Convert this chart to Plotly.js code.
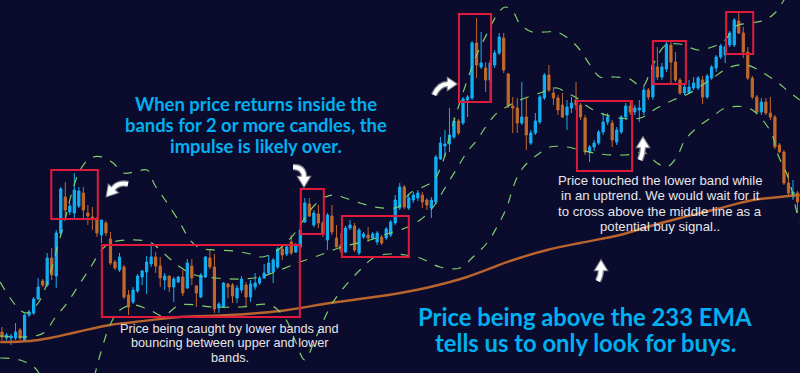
<!DOCTYPE html>
<html>
<head>
<meta charset="utf-8">
<script src="https://cdn.plot.ly/plotly-3.0.1.min.js"></script>
<style>html,body{margin:0;padding:0;background:#0b0b2d;}#chart{width:800px;height:373px;}</style>
</head>
<body>
<div id="chart"></div>
<script>
// ---- candle data (bar index 0..176) ----
const openP  = [41,35,35,35,43,33,58,60,74,92,88,115,97,140,176,161,160,167,180,160,156,155,138,150,134,111,103,106,78,71,
  82,96,101,109,116,107,93,97,86,91,96,85,107,87,76,96,115,106,65,66,89,88,75,83,88,76,86,90,95,100,
  101,106,124,119,131,121,126,151,169,148,159,150,133,157,135,128,121,145,147,120,136,138,135,131,136,135,138,150,165,186,
  165,173,175,178,173,165,171,214,227,229,236,252,250,273,275,330,306,305,293,308,320,335,299,267,265,250,256,230,240,251,
  275,298,280,275,268,258,265,273,268,255,221,226,230,241,251,250,231,241,256,267,261,263,261,283,276,306,296,304,328,311,
  293,280,280,285,285,293,276,295,305,316,318,328,328,352,340,321,295,276,261,271,260,256,228,221,190,176,180];
const highP  = [46,40,39,50,45,59,63,76,95,94,120,125,143,186,191,170,200,186,186,168,166,156,153,152,141,113,120,108,83,86,
  99,103,117,127,121,116,100,97,96,97,103,114,114,88,100,117,124,119,71,91,90,90,88,97,91,93,100,97,109,118,
  115,126,128,128,138,130,151,175,175,163,168,152,160,168,148,140,147,153,150,145,141,146,141,142,138,146,153,178,190,188,
  178,181,183,181,175,176,218,236,243,265,256,254,276,278,332,355,341,311,313,323,340,340,300,276,275,291,275,243,260,278,
  300,308,286,278,280,273,276,291,270,258,228,233,243,260,260,253,246,258,270,273,268,273,288,285,310,326,310,331,331,321,
  295,288,293,296,297,297,299,308,318,329,328,342,355,361,346,326,297,278,275,275,276,258,230,223,201,193,182];
const lowP   = [33,33,28,33,33,32,56,58,73,86,86,93,85,138,156,158,153,165,155,148,143,136,130,137,108,103,101,74,58,69,
  80,88,79,106,100,86,83,81,71,90,77,84,88,66,75,95,104,60,60,65,75,70,70,80,66,71,83,88,94,98,
  90,104,113,117,118,120,111,150,156,146,145,136,123,138,126,120,120,143,121,118,134,131,133,128,128,133,136,148,163,164,
  163,170,172,165,163,155,169,213,216,221,234,238,248,256,273,295,304,281,271,305,318,300,265,240,240,248,223,228,238,249,
  273,281,268,258,255,243,260,263,253,218,211,222,228,238,248,226,228,239,253,258,258,251,258,273,273,293,293,301,290,291,
  278,278,279,283,283,269,274,293,301,314,310,326,326,339,315,293,274,259,258,258,253,224,220,188,178,173,160];
const closeP = [36,38,37,41,35,58,61,74,86,88,115,98,140,184,163,167,183,182,163,157,154,140,153,140,110,105,116,76,66,83,
  97,102,111,116,107,95,97,86,94,96,80,110,95,80,98,116,106,64,69,90,86,77,85,94,76,89,90,95,100,110,
  113,124,118,126,120,128,143,170,157,160,150,140,158,141,126,123,145,148,123,143,139,135,139,140,130,144,151,173,186,166,
  175,178,180,171,168,173,216,230,229,238,252,240,274,276,330,308,310,293,310,320,336,303,267,265,250,256,238,240,252,276,
  298,283,275,263,256,266,270,268,256,221,226,230,241,251,256,233,243,256,267,261,265,265,283,276,308,296,306,329,311,293,
  280,286,286,290,295,276,297,306,316,327,326,340,353,340,321,295,276,261,271,260,256,226,221,190,180,181,171];

// ---- Bollinger bands (sampled) ----
const upperX = [-0.4,1.8,4.0,5.5,8.0,10.2,12.4,14.2,15.5,17.3,19.5,22.3,24.6,26.8,29.4,32.1,33.8,36.1,39.4,41.6,43.8,47.1,51.5,54.9,57.5,60.4,62.6,64.8,67.0,69.2,
  71.5,73.7,75.9,79.2,82.5,87.6,90.3,93.6,95.4,97.3,99.1,100.9,103.1,105.3,107.5,109.5,111.3,113.1,114.6,117.3,120.1,122.8,125.7,127.9,130.1,132.3,135.6,138.9,141.6,143.4,
  145.1,146.9,150.0,154.0,157.1,160.0,161.5,162.8,165.9,168.8,171.0,172.6,174.3,176.5];
const upperV = [91,75,63,60,70,93,128,158,181,203,215,216,210,200,201,203,188,173,150,133,125,123,122,119,116,121,129,140,155,168,
  176,178,175,170,166,166,180,187,192,208,238,265,295,321,341,358,366,361,349,341,341,341,333,323,308,296,296,294,286,301,
  318,328,329,323,326,333,343,348,350,353,360,370,383,398];
const middleX = [-0.4,4.0,7.3,9.5,11.7,14.4,17.3,19.5,21.7,23.9,28.3,32.7,35.0,37.2,39.4,42.7,47.1,52.7,57.1,60.4,63.7,65.9,70.4,75.2,81.4,85.8,89.2,92.5,95.4,98.0,
  100.7,102.9,105.1,107.3,109.5,112.4,114.6,119.0,122.8,125.0,127.2,129.4,132.3,136.7,141.2,144.9,148.5,152.2,156.6,161.1,164.8,167.7,171.5,173.9,176.5];
const middleV = [37,36,37,41,55,70,90,105,121,130,133,131,123,114,106,98,95,94,96,101,107,111,118,126,133,140,145,153,166,185,
  205,221,233,248,260,268,273,280,285,280,275,267,260,255,255,265,273,280,293,306,308,302,291,282,273];
const lowerX = [-0.4,4.0,7.3,9.5,12.8,17.3,19.9,21.7,23.9,26.1,29.0,32.7,35.6,39.4,46.7,52.7,59.3,62.6,64.8,67.0,69.2,72.6,75.2,79.2,82.5,85.8,89.2,92.5,96.9,101.3,
  104.2,107.3,109.5,111.7,113.1,114.6,116.2,119.0,121.2,125.0,127.9,132.3,137.8,142.3,144.9,147.1,149.3,151.1,154.0,157.1,160.0,164.4,166.6,168.8,170.4,171.7,173.9,175.9,176.5];
const lowerV = [15,13,5,-12,-47,-47,-12,18,48,63,68,63,57,68,66,66,68,55,33,13,33,66,83,103,116,119,118,115,106,105,
  116,130,146,166,186,201,210,220,226,226,223,219,218,220,210,206,216,233,246,256,265,266,261,250,238,218,196,160,151];

// ---- 233 EMA (sampled) ----
const emaX = [-0.4,6.2,10.6,16.6,23.9,29.4,39.4,50.4,61.5,72.6,79.2,88.1,94.7,102.9,113.1,120.6,127.9,136.7,142.7,150.0,157.3,166.2,172.1,176.5];
const emaV = [31,32,35,41,48,51,56,58,62,70,74,80,86,96,113,123,130,138,146,155,163,173,176,178];

// ---- highlighted zones [x0,x1,low,high] in bar index / price ----
const zoneX0 = [10.9,22.1,66.1,75.2,101.1,127.2,144.0,160.2];
const zoneX1 = [21.2,65.9,71.2,90.0,108.2,139.4,151.3,166.2];
const zoneLo = [154,56,139,116,271,202,289,319];
const zoneHi = [203,128,184,157,359,272,332,361];

// ---- text ----
const noteImpulse = ["When price returns inside the","bands for 2 or more candles, the","impulse is likely over."];
const noteLower = ["Price touched the lower band while","in an uptrend. We would wait for it","to cross above the middle line as a","potential buy signal.."];
const noteCaught = ["Price being caught by lower bands and","bouncing between upper and lower","bands."];
const noteEma = ["Price being above the 233 EMA","tells us to only look for buys."];

const idx = openP.map((_, i) => i);
const W = 800, H = 373;
const BG = '#0b0b2d', CYAN = '#00b0f0', BAND = '#7fcf6a';

const traces = [
  {type:'scatter', mode:'lines', x: emaX, y: emaV, line:{color:'#b8642c', width:2.4, shape:'spline'}, hoverinfo:'skip'},
  {type:'scatter', mode:'lines', x: upperX, y: upperV, line:{color:BAND, width:1.2, dash:'dash', shape:'spline'}, hoverinfo:'skip'},
  {type:'scatter', mode:'lines', x: middleX, y: middleV, line:{color:BAND, width:1.2, dash:'dash', shape:'spline'}, hoverinfo:'skip'},
  {type:'scatter', mode:'lines', x: lowerX, y: lowerV, line:{color:BAND, width:1.2, dash:'dash', shape:'spline'}, hoverinfo:'skip'},
  {type:'candlestick', x: idx, open: openP, high: highP, low: lowP, close: closeP,
   increasing:{line:{color:'#12b0f2', width:1}, fillcolor:'#12b0f2'},
   decreasing:{line:{color:'#c2682b', width:1}, fillcolor:'#c2682b'},
   whiskerwidth:0, hoverinfo:'skip'}
];

const shapes = zoneX0.map((x0, k) => ({
  type:'rect', xref:'x', yref:'y', x0: x0, x1: zoneX1[k], y0: zoneLo[k], y1: zoneHi[k],
  line:{color:'#e01a3c', width:2}, fillcolor:'rgba(0,0,0,0)', layer:'above'
}));

// curved pointer arrows drawn in paper space: tail, control, head, tip (px)
const px = (x) => (x / W).toFixed(4), py = (y) => (1 - y / H).toFixed(4);
const arrowDefs = [
  [[128,184],[118,182],[113,189],[107,196]],
  [[293,167],[304,167],[304,177],[304,186]],
  [[434,95],[439,84],[448,84],[456,84]],
  [[640,160],[643,153],[643,147],[643,138]],
  [[598,281],[601,275],[601,270],[601,261]]
];
arrowDefs.forEach(([t, c, h, tip]) => {
  const dx = tip[0] - h[0], dy = tip[1] - h[1];
  const len = Math.hypot(dx, dy), nx = -dy / len * 5.5, ny = dx / len * 5.5;
  const body = `M${px(t[0])},${py(t[1])} Q${px(c[0])},${py(c[1])} ${px(h[0])},${py(h[1])}`;
  const head = `M${px(h[0]+nx)},${py(h[1]+ny)} L${px(tip[0])},${py(tip[1])} L${px(h[0]-nx)},${py(h[1]-ny)} Z`;
  shapes.push({type:'path', xref:'paper', yref:'paper', path: body, line:{color:'#7d7d88', width:6.5}, layer:'above'});
  shapes.push({type:'path', xref:'paper', yref:'paper', path: head, line:{color:'#7d7d88', width:2.5}, fillcolor:'#7d7d88', layer:'above'});
  shapes.push({type:'path', xref:'paper', yref:'paper', path: body, line:{color:'#ffffff', width:4}, layer:'above'});
  shapes.push({type:'path', xref:'paper', yref:'paper', path: head, line:{color:'#ffffff', width:0.5}, fillcolor:'#ffffff', layer:'above'});
});

const annotations = [];
function addLines(lines, cx, cy0, step, size, color, bold, family) {
  lines.forEach((t, k) => annotations.push({
    xref:'paper', yref:'paper', x: cx / W, y: 1 - (cy0 + k * step) / H,
    xanchor:'center', yanchor:'middle', showarrow:false,
    text: bold ? '<b>' + t + '</b>' : t,
    font:{family: family, size: size, color: color}
  }));
}
addLines(noteImpulse, 255.5, 104, 21, 18.4, CYAN, true, 'Lato, sans-serif');
addLines(noteLower, 660, 180.3, 15.4, 13.2, '#e6e6ea', false, '"Liberation Sans", Arial, sans-serif');
addLines(noteCaught, 229.5, 328.5, 14.9, 12.7, '#e6e6ea', false, '"Liberation Sans", Arial, sans-serif');
addLines(noteEma, 585, 317, 26, 23.8, CYAN, true, 'Lato, sans-serif');

const layout = {
  width: W, height: H, margin:{l:0, r:0, t:0, b:0, pad:0},
  paper_bgcolor: BG, plot_bgcolor: BG, showlegend:false,
  xaxis:{range:[-0.44, 176.55], showgrid:false, zeroline:false, showticklabels:false, ticks:'', showline:false,
         rangeslider:{visible:false}, fixedrange:true},
  yaxis:{range:[0, 373], showgrid:false, zeroline:false, showticklabels:false, ticks:'', showline:false, fixedrange:true},
  shapes: shapes, annotations: annotations
};

Plotly.newPlot('chart', traces, layout, {staticPlot:true, displayModeBar:false});
</script>
</body>
</html>
